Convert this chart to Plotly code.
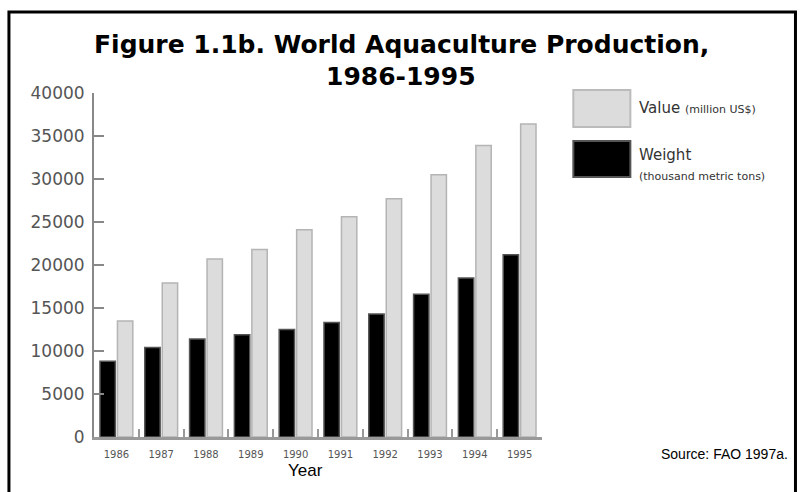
import plotly.graph_objects as go

years = ["1986", "1987", "1988", "1989", "1990", "1991", "1992", "1993", "1994", "1995"]
value_musd = [13500, 17900, 20700, 21800, 24100, 25600, 27700, 30500, 33900, 36400]
weight_kt = [8800, 10400, 11400, 11900, 12500, 13300, 14300, 16600, 18500, 21200]
y_ticks = [0, 5000, 10000, 15000, 20000, 25000, 30000, 35000, 40000]
title_lines = ["Figure 1.1b. World Aquaculture Production,", "1986-1995"]

W_PX, H_PX = 802, 492
L, R, T, B = 94, 541.7, 93, 436.7
PW, PH = R - L, B - T


def px(x):
    return (x - L) / PW


def py(y):
    return (B - y) / PH


fig = go.Figure()
fig.add_trace(go.Bar(
    x=years, y=weight_kt, name="Weight",
    marker=dict(color="#000000", line=dict(color="#555555", width=1.5)),
))
fig.add_trace(go.Bar(
    x=years, y=value_musd, name="Value",
    marker=dict(color="#dcdcdc", line=dict(color="#b4b4b4", width=1.5)),
))

shapes = [
    dict(type="rect", xref="paper", yref="paper", x0=px(9), x1=px(795), y0=py(520), y1=py(12),
         line=dict(color="black", width=3), fillcolor="rgba(0,0,0,0)"),
    dict(type="rect", xref="paper", yref="paper", x0=px(573), x1=px(630), y0=py(127), y1=py(90),
         line=dict(color="#bbbbbb", width=2), fillcolor="#dcdcdc"),
    dict(type="rect", xref="paper", yref="paper", x0=px(573), x1=px(630), y0=py(177), y1=py(141),
         line=dict(color="#555555", width=2), fillcolor="#000000"),
]

plain = "Liberation Sans, Arial, sans-serif"
legf = "DejaVu Sans, sans-serif"
titlef = dict(family="DejaVu Sans, sans-serif", size=25, color="black", weight="bold")
annotations = [
    dict(text=title_lines[0], xref="paper", yref="paper", x=px(401), y=py(45),
         xanchor="center", yanchor="middle", showarrow=False, font=titlef),
    dict(text=title_lines[1], xref="paper", yref="paper", x=px(401), y=py(77),
         xanchor="center", yanchor="middle", showarrow=False, font=titlef),
    dict(text="Value <span style='font-size:11px'>(million US$)</span>", xref="paper", yref="paper",
         x=px(637), y=py(108), xanchor="left", yanchor="middle", showarrow=False,
         font=dict(family=legf, size=15, color="#333333")),
    dict(text="Weight", xref="paper", yref="paper",
         x=px(637), y=py(155), xanchor="left", yanchor="middle", showarrow=False,
         font=dict(family=legf, size=15, color="#333333")),
    dict(text="(thousand metric tons)", xref="paper", yref="paper",
         x=px(637), y=py(176), xanchor="left", yanchor="middle", showarrow=False,
         font=dict(family=legf, size=11, color="#333333")),
    dict(text="Year", xref="paper", yref="paper",
         x=px(305), y=py(470), xanchor="center", yanchor="middle", showarrow=False,
         font=dict(family=plain, size=17, color="#000000")),
    dict(text="Source: FAO 1997a.", xref="paper", yref="paper",
         x=px(724), y=py(454), xanchor="center", yanchor="middle", showarrow=False,
         font=dict(family=plain, size=14, color="#000000")),
]

fig.update_layout(
    width=W_PX, height=H_PX,
    margin=dict(l=L, r=W_PX - R, t=T, b=H_PX - B, autoexpand=False),
    paper_bgcolor="white", plot_bgcolor="white",
    showlegend=False,
    barmode="group", bargap=0.22, bargroupgap=0.12,
    shapes=shapes,
    annotations=annotations,
)
fig.update_yaxes(range=[0, 40000], tickvals=y_ticks, ticktext=[str(v) for v in y_ticks],
                 ticks="inside", ticklen=10, tickwidth=2, tickcolor="#888888",
                 showline=True, linecolor="#888888", linewidth=2, showgrid=False, zeroline=False,
                 tickfont=dict(family=legf, size=17, color="#555555"), ticklabelstandoff=4)
fig.update_xaxes(type="category", ticks="inside", tickson="boundaries", ticklen=8, tickwidth=2,
                 tickcolor="#999999", showline=True, linecolor="#999999", linewidth=3,
                 showgrid=False, tickfont=dict(family=legf, size=10, color="#555555"),
                 ticklabelstandoff=6)

fig.write_html("out.html")
